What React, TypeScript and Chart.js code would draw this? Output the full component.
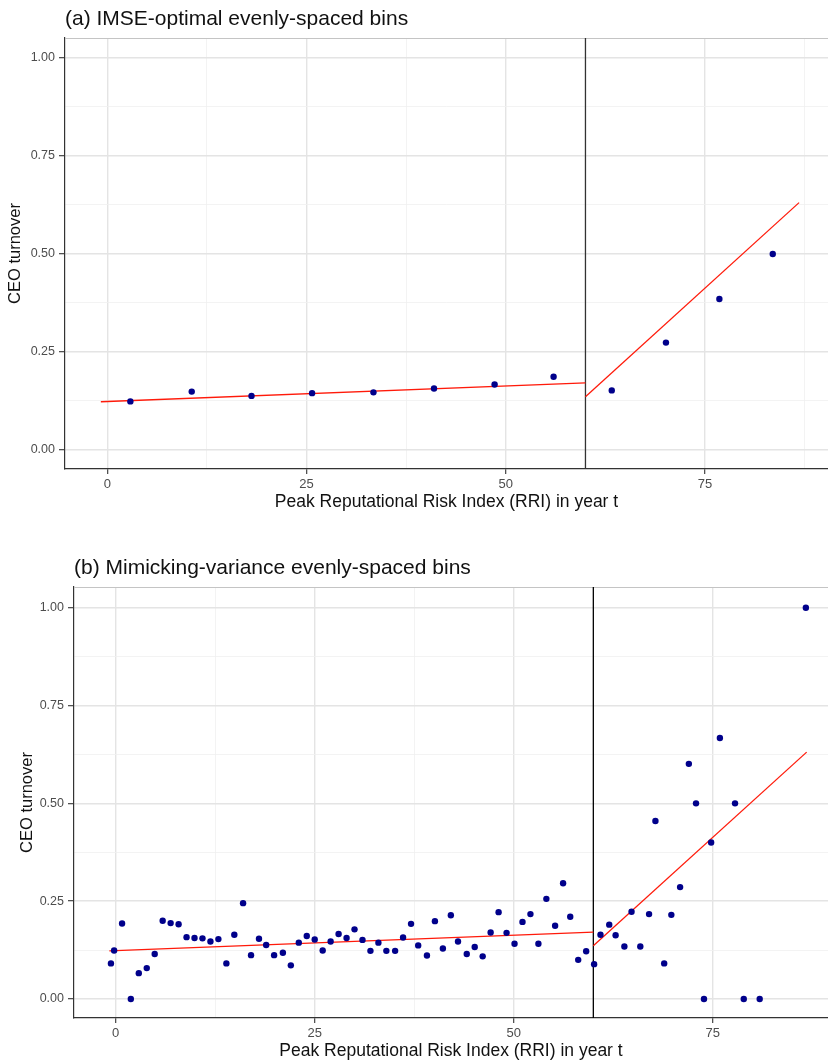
import React, { useEffect, useRef } from "react";
import { Chart, registerables } from "chart.js";
Chart.register(...registerables);

// ---------- data ----------
const panelTitleA = "(a) IMSE-optimal evenly-spaced bins";
const panelTitleB = "(b) Mimicking-variance evenly-spaced bins";
const xAxisTitle = "Peak Reputational Risk Index (RRI) in year t";
const yAxisTitle = "CEO turnover";

const xMajorTicks = [0, 25, 50, 75];
const xMinorTicksA = [12.5, 37.5, 87.5];
const xMinorTicksB = [12.5, 37.5];
const yMajorTicks = [0, 0.25, 0.5, 0.75, 1];
const yMinorTicks = [0.125, 0.375, 0.625, 0.875];

const cutoff = 60;

const binsAX = [2.9, 10.6, 18.1, 25.7, 33.4, 41.0, 48.6, 56.0, 63.3, 70.1, 76.8, 83.5];
const binsAY = [0.124, 0.149, 0.138, 0.145, 0.147, 0.157, 0.167, 0.187, 0.152, 0.274, 0.385, 0.5];

const binsBX = [
  -0.6, -0.2, 0.8, 1.9, 2.9, 3.9, 4.9, 5.9, 6.9, 7.9, 8.9, 9.9, 10.9, 11.9, 12.9, 13.9, 14.9, 16.0,
  17.0, 18.0, 18.9, 19.9, 21.0, 22.0, 23.0, 24.0, 25.0, 26.0, 27.0, 28.0, 29.0, 30.0, 31.0, 32.0,
  33.0, 34.0, 35.1, 36.1, 37.1, 38.0, 39.1, 40.1, 41.1, 42.1, 43.0, 44.1, 45.1, 46.1, 47.1, 48.1,
  49.1, 50.1, 51.1, 52.1, 53.1, 54.1, 55.2, 56.2, 57.1, 58.1, 59.1, 60.1, 60.9, 62.0, 62.8, 63.9,
  64.8, 65.9, 67.0, 67.8, 68.9, 69.8, 70.9, 72.0, 72.9, 73.9, 74.8, 75.9, 77.8, 78.9, 80.9, 86.7,
];
const binsBY = [
  0.091, 0.124, 0.193, 0.0, 0.066, 0.079, 0.115, 0.2, 0.194, 0.191, 0.158, 0.156, 0.155, 0.147, 0.153,
  0.091, 0.164, 0.245, 0.112, 0.154, 0.138, 0.112, 0.118, 0.086, 0.144, 0.161, 0.152, 0.124, 0.147,
  0.166, 0.156, 0.178, 0.151, 0.123, 0.144, 0.123, 0.123, 0.157, 0.192, 0.137, 0.111, 0.199, 0.129,
  0.214, 0.147, 0.115, 0.133, 0.109, 0.17, 0.222, 0.169, 0.141, 0.197, 0.217, 0.141, 0.256, 0.187,
  0.296, 0.21, 0.1, 0.122, 0.089, 0.164, 0.19, 0.163, 0.134, 0.223, 0.134, 0.217, 0.455, 0.091,
  0.215, 0.286, 0.601, 0.5, 0.0, 0.4, 0.667, 0.5, 0.0, 0.0, 1.0,
];

const fitLeftX = [-0.8, 60];
const fitLeftY = [0.123, 0.171];
const fitRightX = [60, 86.8];
const fitRightY = [0.136, 0.631];

// ---------- helpers ----------
const FONT = "'Liberation Sans', Arial, 'DejaVu Sans', sans-serif";
const near = (a: number, list: number[]) => list.some((v) => Math.abs(v - a) < 1e-6);

type PanelProps = {
  title: string;
  xs: number[];
  ys: number[];
  xMinor: number[];
  width: number;
  height: number;
  padTop: number;
  yAxisWidth: number;
  xAxisHeight: number;
  xMin: number;
  xMax: number;
  yMin: number;
  yMax: number;
  titleY: number;
  yTitlePad: number;
  xTitlePad: number;
  vlineColor: string;
};

function Panel(p: PanelProps) {
  const ref = useRef<HTMLCanvasElement | null>(null);
  useEffect(() => {
    if (!ref.current) return;
    const pts = p.xs.map((x, i) => ({ x, y: p.ys[i] }));
    const left = fitLeftX.map((x, i) => ({ x, y: fitLeftY[i] }));
    const right = fitRightX.map((x, i) => ({ x, y: fitRightY[i] }));
    const vline = [
      { x: cutoff, y: p.yMin },
      { x: cutoff, y: p.yMax },
    ];
    const xTicks = [...xMajorTicks, ...p.xMinor].sort((a, b) => a - b);
    const yTicks = [...yMajorTicks, ...yMinorTicks].sort((a, b) => a - b);

    const gridFor = (majors: number[], tl: number) => ({
      color: (c: any) => (c.tick && near(c.tick.value, majors) ? "#e4e4e4" : "#f0f0f0"),
      lineWidth: (c: any) => (c.tick && near(c.tick.value, majors) ? 1.4 : 0.8),
      tickColor: (c: any) => (c.tick && near(c.tick.value, majors) ? "#333333" : "rgba(0,0,0,0)"),
      tickWidth: 1.1,
      tickLength: tl,
      drawTicks: true,
    });

    const panelDeco = {
      id: "panelDeco",
      beforeDatasetsDraw(chart: any) {
        const { ctx, chartArea } = chart;
        ctx.save();
        ctx.strokeStyle = "#c4c4c4";
        ctx.lineWidth = 1.2;
        ctx.beginPath();
        ctx.moveTo(chartArea.left, chartArea.top + 0.5);
        ctx.lineTo(chartArea.right, chartArea.top + 0.5);
        ctx.stroke();
        ctx.restore();
      },
      afterDraw(chart: any) {
        const { ctx, chartArea } = chart;
        ctx.save();
        ctx.fillStyle = "#111111";
        ctx.font = `21px ${FONT}`;
        ctx.textBaseline = "middle";
        ctx.textAlign = "left";
        ctx.fillText(p.title, chartArea.left, p.titleY);
        ctx.restore();
      },
    };

    const chart = new Chart(ref.current, {
      type: "scatter",
      data: {
        datasets: [
          {
            data: pts,
            backgroundColor: "#00008B",
            borderColor: "#00008B",
            pointRadius: 3.2,
            pointBorderWidth: 0,
            showLine: false,
          },
          {
            data: left,
            showLine: true,
            borderColor: "#ff1a0a",
            borderWidth: 1.3,
            pointRadius: 0,
          },
          {
            data: right,
            showLine: true,
            borderColor: "#ff1a0a",
            borderWidth: 1.3,
            pointRadius: 0,
          },
          {
            data: vline,
            showLine: true,
            borderColor: p.vlineColor,
            borderWidth: 1.3,
            pointRadius: 0,
          },
        ],
      },
      options: {
        responsive: false,
        animation: false,
        events: [],
        layout: { padding: { top: p.padTop, left: 0, right: 0, bottom: 0 } },
        plugins: { legend: { display: false }, tooltip: { enabled: false }, title: { display: false } },
        scales: {
          x: {
            type: "linear",
            min: p.xMin,
            max: p.xMax,
            afterBuildTicks: (s: any) => {
              s.ticks = xTicks.map((v) => ({ value: v }));
            },
            afterFit: (s: any) => {
              s.height = p.xAxisHeight;
            },
            ticks: {
              autoSkip: false,
              maxRotation: 0,
              padding: 2.5,
              color: "#4d4d4d",
              font: { family: FONT, size: 13 },
              callback: (v: any) => (near(Number(v), xMajorTicks) ? String(v) : ""),
            },
            grid: gridFor(xMajorTicks, 5),
            border: { display: true, color: "#333333", width: 1.2 },
            title: {
              display: true,
              text: xAxisTitle,
              color: "#111111",
              font: { family: FONT, size: 17.5 },
              padding: { top: 0, bottom: p.xTitlePad },
            },
          },
          y: {
            type: "linear",
            min: p.yMin,
            max: p.yMax,
            afterBuildTicks: (s: any) => {
              s.ticks = yTicks.map((v) => ({ value: v }));
            },
            afterFit: (s: any) => {
              s.width = p.yAxisWidth;
            },
            ticks: {
              autoSkip: false,
              padding: 4,
              color: "#4d4d4d",
              font: { family: FONT, size: 12.5 },
              callback: (v: any) => (near(Number(v), yMajorTicks) ? Number(v).toFixed(2) : ""),
            },
            grid: gridFor(yMajorTicks, 6),
            border: { display: true, color: "#333333", width: 1.2 },
            title: {
              display: true,
              text: yAxisTitle,
              color: "#111111",
              font: { family: FONT, size: 16.5 },
              padding: { top: p.yTitlePad, bottom: 0 },
            },
          },
        },
      },
      plugins: [panelDeco],
    } as any);
    return () => chart.destroy();
  }, []);
  return <canvas ref={ref} width={p.width} height={p.height} style={{ display: "block", width: p.width, height: p.height }} />;
}

export default function App() {
  return (
    <div style={{ position: "absolute", left: 0, top: 0, width: 828, height: 1062, background: "#fff", overflow: "hidden" }}>
      <div style={{ position: "absolute", left: 0, top: 0 }}>
        <Panel
          title={panelTitleA}
          xs={binsAX}
          ys={binsAY}
          xMinor={xMinorTicksA}
          width={832}
          height={530}
          padTop={38}
          yAxisWidth={65}
          xAxisHeight={61}
          xMin={-5.3}
          xMax={90.43}
          yMin={-0.0485}
          yMax={1.051}
          titleY={19}
          yTitlePad={6}
          xTitlePad={17}
          vlineColor="#333333"
        />
      </div>
      <div style={{ position: "absolute", left: 0, top: 540 }}>
        <Panel
          title={panelTitleB}
          xs={binsBX}
          ys={binsBY}
          xMinor={xMinorTicksB}
          width={832}
          height={522}
          padTop={47}
          yAxisWidth={74}
          xAxisHeight={44}
          xMin={-5.24}
          xMax={89.48}
          yMin={-0.0486}
          yMax={1.053}
          titleY={28}
          yTitlePad={18}
          xTitlePad={0}
          vlineColor="#000000"
        />
      </div>
    </div>
  );
}
